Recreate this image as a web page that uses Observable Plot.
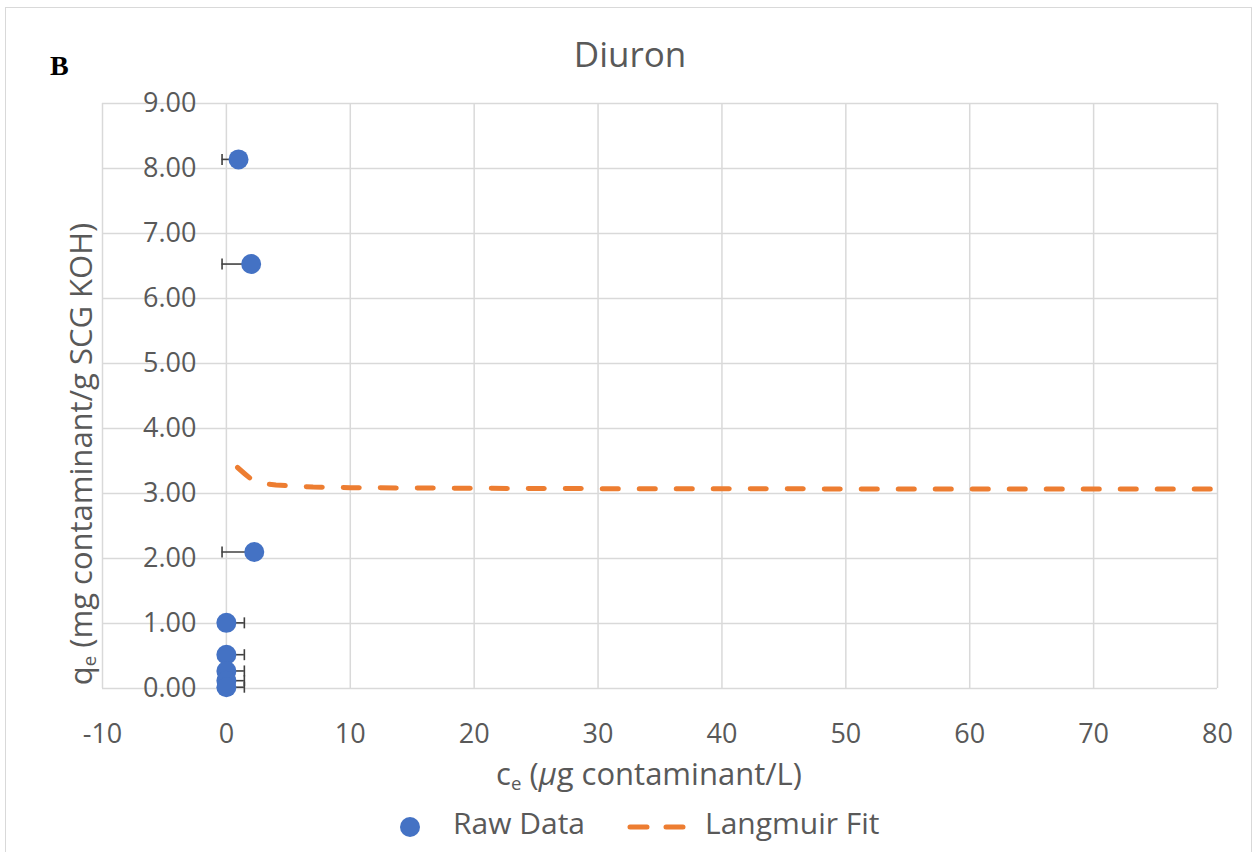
<!DOCTYPE html>
<html>
<head>
<meta charset="utf-8">
<script src="https://cdn.jsdelivr.net/npm/d3@7"></script>
<script src="https://cdn.jsdelivr.net/npm/@observablehq/plot@0.6"></script>
<style>
  html, body { margin: 0; padding: 0; background: #fff; }
  #wrap { position: relative; width: 1254px; height: 852px; overflow: hidden; font-family: "Open Sans", sans-serif; color: #595959; }
  #frame { position: absolute; left: 5px; top: 7px; width: 1247px; height: 900px; border: 1.5px solid #d9d9d9; box-sizing: border-box; }
  #chart { position: absolute; left: 0; top: 0; }
  .abs { position: absolute; white-space: nowrap; line-height: 1; }
  #panel { left: 50px; top: 52px; font-family: "Liberation Serif", serif; font-weight: bold; font-size: 28px; color: #000; }
  #title { left: 630px; top: 36px; transform: translateX(-50%); font-size: 35px; }
  #ytitle { left: 80px; top: 454px; font-size: 31px; transform: translate(-50%, -50%) rotate(-90deg); }
  #xtitle { left: 649px; top: 758px; transform: translateX(-50%); font-size: 31px; }
  sub { font-size: 0.6em; vertical-align: -0.25em; line-height: 0; }
  #legend { left: 0; top: 808px; width: 1254px; height: 40px; }
  .lg-item { position: absolute; top: 0; font-size: 30px; }
</style>
</head>
<body>
<div id="wrap">
  <div id="frame"></div>
  <div id="chart"></div>
  <div class="abs" id="panel">B</div>
  <div class="abs" id="title">Diuron</div>
  <div class="abs" id="ytitle">q<sub>e</sub> (mg contaminant/g SCG KOH)</div>
  <div class="abs" id="xtitle">c<sub>e</sub> (<i>μ</i>g contaminant/L)</div>
  <div class="abs" id="legend"></div>
</div>
<script>
// Measured equilibrium data for diuron
const ce = [0.98, 2.0, 2.25, 0, 0, 0, 0, 0];            // µg/L
const qe = [8.14, 6.53, 2.10, 1.01, 0.52, 0.27, 0.12, 0.02]; // mg/g
const ceErrMinus = [1.33, 2.35, 2.60, 0, 0, 0, 0, 0];
const ceErrPlus = [0, 0, 0, 1.45, 1.45, 1.45, 1.45, 1.45];

// Langmuir fit curve
const fitCe = [0.9, 1.5, 2, 2.5, 3, 4, 5, 7, 10, 15, 20, 30, 40, 50, 60, 70, 80];
const fitQe = [3.40, 3.30, 3.22, 3.18, 3.15, 3.13, 3.12, 3.10, 3.09, 3.085, 3.08, 3.075, 3.075, 3.07, 3.07, 3.07, 3.07];

// Axis ticks
const xTicks = [-10, 0, 10, 20, 30, 40, 50, 60, 70, 80];
const yTicks = [0, 1, 2, 3, 4, 5, 6, 7, 8, 9];

const raw = ce.map((c, i) => ({ce: c, qe: qe[i], lo: c - ceErrMinus[i], hi: c + ceErrPlus[i], hasLo: ceErrMinus[i] > 0, hasHi: ceErrPlus[i] > 0}));
const fit = fitCe.map((c, i) => ({ce: c, qe: fitQe[i]}));

// Vertical bar used as the error-bar cap
const capSymbol = {
  draw(context, size) {
    const h = Math.sqrt(size / Math.PI);
    context.moveTo(0, -h);
    context.lineTo(0, h);
  }
};

const blue = "#4472C4", orange = "#ED7D31", grid = "#d9d9d9", errColor = "#404040";

const chart = Plot.plot({
  width: 1254,
  height: 852,
  marginLeft: 102,
  marginRight: 37,
  marginTop: 103,
  marginBottom: 164,
  style: {fontFamily: "Open Sans", fontSize: "27px", color: "#595959", background: "transparent"},
  x: {domain: [-10, 80], ticks: xTicks},
  y: {domain: [0, 9], ticks: yTicks},
  marks: [
    Plot.gridX(xTicks, {stroke: grid, strokeOpacity: 1, strokeWidth: 1.5}),
    Plot.gridY(yTicks, {stroke: grid, strokeOpacity: 1, strokeWidth: 1.5}),
    Plot.axisX(xTicks, {tickSize: 0, tickPadding: 35, label: null, tickFormat: d => String(d)}),
    Plot.axisY(yTicks, {tickSize: 0, tickPadding: 0, dx: 94, label: null, tickFormat: d => d.toFixed(2)}),
    Plot.line(fit, {x: "ce", y: "qe", stroke: orange, strokeWidth: 5, strokeDasharray: "16,21", strokeLinecap: "round"}),
    Plot.ruleY(raw, {x1: "lo", x2: "hi", y: "qe", stroke: errColor, strokeWidth: 1.6}),
    Plot.dot(raw.filter(d => d.hasLo), {x: "lo", y: "qe", symbol: capSymbol, r: 5.5, stroke: errColor, strokeWidth: 1.6}),
    Plot.dot(raw.filter(d => d.hasHi), {x: "hi", y: "qe", symbol: capSymbol, r: 5.5, stroke: errColor, strokeWidth: 1.6}),
    Plot.dot(raw, {x: "ce", y: "qe", r: 10, fill: blue})
  ]
});
document.getElementById("chart").append(chart);

// Legend
const legend = document.getElementById("legend");
legend.innerHTML = `
  <svg style="position:absolute;left:0;top:0" width="1254" height="40">
    <circle cx="410" cy="19" r="10" fill="${blue}"></circle>
    <line x1="630" y1="19" x2="686" y2="19" stroke="${orange}" stroke-width="5" stroke-linecap="round" stroke-dasharray="17,19"></line>
  </svg>
  <div class="lg-item" style="left:453px;top:0px">Raw Data</div>
  <div class="lg-item" style="left:705px;top:0px">Langmuir Fit</div>`;
</script>
</body>
</html>
